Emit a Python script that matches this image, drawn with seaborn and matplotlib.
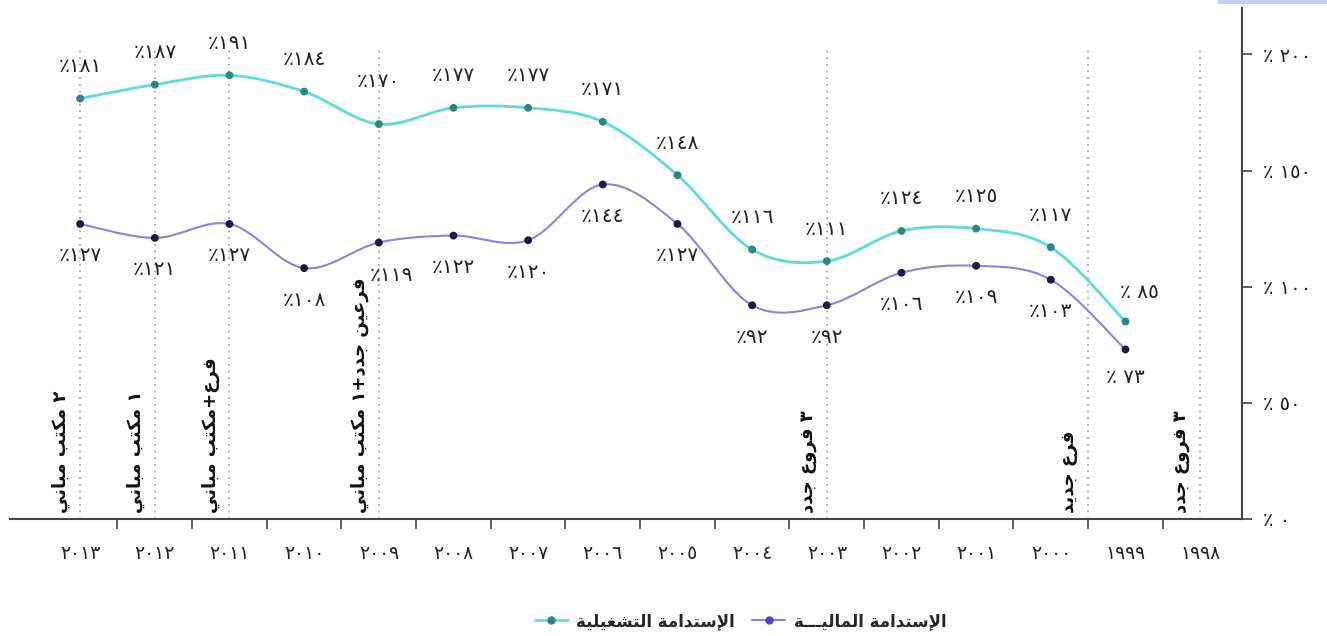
# Operational vs financial sustainability, 1998-2013
import re
import numpy as np
import pandas as pd
import seaborn as sns
import matplotlib.pyplot as plt
from matplotlib.path import Path
from matplotlib.patches import PathPatch, Rectangle
from matplotlib.lines import Line2D

# data
years = [2013, 2012, 2011, 2010, 2009, 2008, 2007, 2006, 2005, 2004,
         2003, 2002, 2001, 2000, 1999, 1998]
operational = [181, 187, 191, 184, 170, 177, 177, 171, 148, 116,
               111, 124, 125, 117, 85]
financial = [127, 121, 127, 108, 119, 122, 120, 144, 127, 92,
             92, 106, 109, 103, 73]
event_pos = [0, 1, 2, 4, 10, 13.5, 15]
event_text = ["٢ مكتب مباني", "١ مكتب مباني", "فرع+مكتب مباني",
              "فرعين جدد+١ مكتب مباني", "٣ فروع جدد", "فرع جديد", "٣ فروع جدد"]
y_ticks = [0, 50, 100, 150, 200]
series_names = ["الإستدامة التشغيلية", "الإستدامة الماليـــة"]

# --- tiny arabic shaper (matplotlib has no text shaping) ---
FORMS = {
    'ا': (0xFE8D, 0xFE8E, None, None), 'إ': (0xFE87, 0xFE88, None, None),
    'ب': (0xFE8F, 0xFE90, 0xFE91, 0xFE92), 'ة': (0xFE93, 0xFE94, None, None),
    'ت': (0xFE95, 0xFE96, 0xFE97, 0xFE98), 'ج': (0xFE9D, 0xFE9E, 0xFE9F, 0xFEA0),
    'د': (0xFEA9, 0xFEAA, None, None), 'ر': (0xFEAD, 0xFEAE, None, None),
    'س': (0xFEB1, 0xFEB2, 0xFEB3, 0xFEB4), 'ش': (0xFEB5, 0xFEB6, 0xFEB7, 0xFEB8),
    'ع': (0xFEC9, 0xFECA, 0xFECB, 0xFECC), 'غ': (0xFECD, 0xFECE, 0xFECF, 0xFED0),
    'ف': (0xFED1, 0xFED2, 0xFED3, 0xFED4), 'ك': (0xFED9, 0xFEDA, 0xFEDB, 0xFEDC),
    'ل': (0xFEDD, 0xFEDE, 0xFEDF, 0xFEE0), 'م': (0xFEE1, 0xFEE2, 0xFEE3, 0xFEE4),
    'ن': (0xFEE5, 0xFEE6, 0xFEE7, 0xFEE8), 'و': (0xFEED, 0xFEEE, None, None),
    'ي': (0xFEF1, 0xFEF2, 0xFEF3, 0xFEF4),
}
LAM_ALEF = {'ا': (0xFEFB, 0xFEFC), 'إ': (0xFEF9, 0xFEFA)}


def shape(text):
    chars = []
    i = 0
    while i < len(text):
        if text[i] == 'ل' and i + 1 < len(text) and text[i + 1] in LAM_ALEF:
            chars.append(('LA', text[i + 1]))
            i += 2
        else:
            chars.append(text[i])
            i += 1

    def joins_next(c):
        if isinstance(c, tuple):
            return False
        return c == 'ـ' or (c in FORMS and FORMS[c][2] is not None)

    def joins_prev(c):
        return isinstance(c, tuple) or c == 'ـ' or c in FORMS

    out = []
    for k, c in enumerate(chars):
        p = k > 0 and joins_next(chars[k - 1]) and joins_prev(c)
        n = k + 1 < len(chars) and joins_next(c) and joins_prev(chars[k + 1])
        if isinstance(c, tuple):
            iso, fin = LAM_ALEF[c[1]]
            out.append(chr(fin if p else iso))
        elif c in FORMS:
            iso, fin, ini, med = FORMS[c]
            out.append(chr(med if p and n else fin if p else ini if n else iso))
        else:
            out.append(c)
    tokens = re.findall(r'[0-9٠-٩]+|.', ''.join(out))
    return ''.join(reversed(tokens))


def ar_num(v):
    return str(v).translate(str.maketrans("0123456789", "٠١٢٣٤٥٦٧٨٩"))


def smooth_path(xs, ys):
    pts = np.column_stack([xs, ys]).astype(float)
    verts, codes = [pts[0]], [Path.MOVETO]
    n = len(pts)
    for i in range(n - 1):
        p0, p1 = pts[max(i - 1, 0)], pts[i]
        p2, p3 = pts[i + 1], pts[min(i + 2, n - 1)]
        verts += [p1 + (p2 - p0) / 6, p2 - (p3 - p1) / 6, p2]
        codes += [Path.CURVE4] * 3
    return Path(verts, codes)


sns.set_theme(style="white")
plt.rcParams['font.family'] = ['DejaVu Sans']

cyan_line, cyan_dot = '#5fdcd5', '#2f8585'
purp_line, purp_dot = '#8c84d4', '#1c1b48'

fig = plt.figure(figsize=(13.27, 6.36), dpi=100)
ax = fig.add_axes([0.0075, 0.184, 0.9284, 0.8035])

pos = np.arange(len(operational))
df = pd.DataFrame({
    'pos': np.concatenate([pos, pos]),
    'value': operational + financial,
    'series': ['op'] * len(operational) + ['fin'] * len(financial),
})

ax.add_patch(PathPatch(smooth_path(pos, operational), fill=False,
                       edgecolor=cyan_line, lw=2.0, zorder=2))
ax.add_patch(PathPatch(smooth_path(pos, financial), fill=False,
                       edgecolor=purp_line, lw=1.5, zorder=2))
sns.scatterplot(data=df, x='pos', y='value', hue='series',
                palette={'op': cyan_dot, 'fin': purp_dot}, s=32,
                edgecolor='none', legend=False, zorder=3, ax=ax)

# event lines + vertical notes
ax.vlines(event_pos, 0, 203, colors='#9a9a9a', linestyles=(0, (1, 3)), lw=1.2, zorder=1)
for xp, txt in zip(event_pos, event_text):
    ax.annotate(shape(txt), xy=(xp, 0), xytext=(-7, 4), textcoords='offset points',
                rotation=90, ha='right', va='bottom', fontsize=13,
                fontweight='bold', color='#111')

# value labels
nudge_op = {4: (0, 31), 14: (10, 21)}
nudge_fin = {4: (9, -24), 14: (0, -20)}
for i, v in enumerate(operational):
    dx, dy = nudge_op.get(i, (0, 23))
    sp = ' ' if i == 14 else ''
    ax.annotate('٪' + sp + ar_num(v), xy=(i, v), xytext=(dx, dy), textcoords='offset points',
                ha='center', va='center', fontsize=14.5, color='#222')
for i, v in enumerate(financial):
    dx, dy = nudge_fin.get(i, (0, -23))
    sp = ' ' if i == 14 else ''
    ax.annotate('٪' + sp + ar_num(v), xy=(i, v), xytext=(dx, dy), textcoords='offset points',
                ha='center', va='center', fontsize=14.5, color='#222')

# axes
ax.set_xlim(-0.94, 15.56)
ax.set_ylim(0, 220)
ax.set_xticks(range(len(years)))
ax.set_xticklabels([ar_num(y) for y in years], fontsize=13.5, color='#222')
ax.set_xticks(np.arange(len(years) - 1) + 0.5, minor=True)
ax.tick_params(axis='x', which='major', length=0, pad=18)
ax.tick_params(axis='x', which='minor', direction='out', length=7, width=1.2,
               color='#444', bottom=True)
ax.yaxis.tick_right()
ax.set_yticks(y_ticks)
ax.set_yticklabels(['٪ ' + ar_num(t) for t in y_ticks], fontsize=14, color='#222')
ax.tick_params(axis='y', direction='out', length=7, width=1.2, color='#444', pad=8, right=True)
ax.set_xlabel('')
ax.set_ylabel('')
for side in ['top', 'left']:
    ax.spines[side].set_visible(False)
for side in ['bottom', 'right']:
    ax.spines[side].set_color('#444')
    ax.spines[side].set_linewidth(1.5)

# legend
handles = [
    Line2D([], [], color=cyan_line, lw=1.8, marker='o', markersize=5,
           markerfacecolor=cyan_dot, markeredgecolor=cyan_dot),
    Line2D([], [], color=purp_line, lw=1.5, marker='o', markersize=5,
           markerfacecolor='#4a3fd0', markeredgecolor='#4a3fd0'),
]
fig.legend(handles, [shape(s) for s in series_names], loc='center',
           bbox_to_anchor=(0.558, 0.024), ncol=2, frameon=False,
           prop={'size': 12, 'weight': 'bold'}, handlelength=2.0,
           columnspacing=1.0, handletextpad=0.5)

fig.add_artist(Rectangle((0.918, 0.994), 0.082, 0.006, transform=fig.transFigure,
                         color='#c9ccf4', lw=0))

fig.savefig('out.png', dpi=100, facecolor='white')
